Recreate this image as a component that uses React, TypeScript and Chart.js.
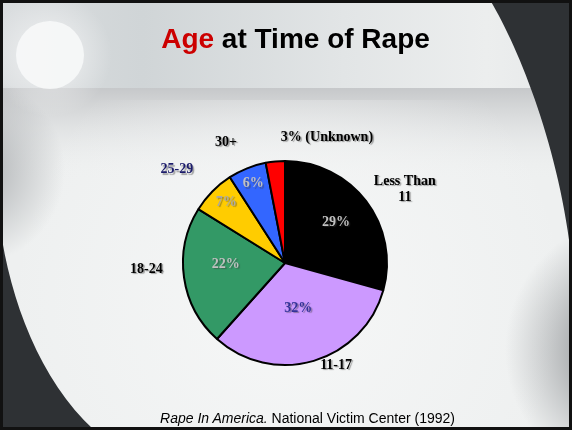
import React, { useEffect, useRef } from "react";
import { Chart, registerables } from "chart.js";

Chart.register(...registerables);

// ---- data ----
const categories = ["Less Than 11", "11-17", "18-24", "25-29", "30+", "Unknown"];
const percentages = [29, 32, 22, 7, 6, 3];
const sliceColors = ["#000000", "#CC99FF", "#339966", "#FFCC00", "#3366FF", "#FF0000"];
const outerLabels = [["Less Than", "11"], ["11-17"], ["18-24"], ["25-29"], ["30+"], ["3% (Unknown)"]];
const showInnerLabel = [true, true, true, true, true, false];

// ---- label styling / placement (relative to each slice) ----
const outerLabelColors = ["#000000", "#000000", "#000000", "#1c1c6b", "#000000", "#000000"];
const innerLabelColors = ["#c0c0c0", "#333399", "#c0c0c0", "#a8a8a8", "#c0c0c0", "#c0c0c0"];
const innerAngleShift = [-1.5, 0, 7, 1.4, 0, 0];
const innerRadiusFactor = [0.64, 0.46, 0.58, 0.83, 0.84, 0.8];
const outerAngleShift = [5.6, -10.2, 5.7, -3.8, -4.2, 23.9];
const outerRadiusFactor = [1.38, 1.12, 1.36, 1.4, 1.32, 1.3];

const LABEL_FONT = "bold 14px 'Liberation Serif', 'Times New Roman', serif";

const backgroundPlugin = {
  id: "slideBackground",
  beforeDraw(chart: any) {
    const { ctx, width: W, height: H } = chart;
    ctx.save();
    // base
    ctx.fillStyle = "#eef0f0";
    ctx.fillRect(0, 0, W, H);

    // top title band
    let g = ctx.createLinearGradient(0, 0, W, 0);
    g.addColorStop(0, "#dadddf");
    g.addColorStop(0.25, "#d0d5d7");
    g.addColorStop(0.6, "#e2e5e6");
    g.addColorStop(0.85, "#eceeee");
    g.addColorStop(1, "#e6e8e9");
    ctx.fillStyle = g;
    ctx.fillRect(0, 0, W, 88);

    // band below title fading into white
    g = ctx.createLinearGradient(0, 88, 0, 180);
    g.addColorStop(0, "rgba(198,200,202,1)");
    g.addColorStop(0.35, "rgba(216,218,219,0.8)");
    g.addColorStop(1, "rgba(238,240,240,0)");
    ctx.fillStyle = g;
    ctx.fillRect(0, 88, W, 92);

    // soft central glow
    let rg = ctx.createRadialGradient(290, 300, 20, 290, 300, 280);
    rg.addColorStop(0, "rgba(246,247,247,0.9)");
    rg.addColorStop(1, "rgba(246,247,247,0)");
    ctx.fillStyle = rg;
    ctx.fillRect(0, 100, W, H - 100);

    // left gray fade (soft)
    rg = ctx.createRadialGradient(-30, 170, 10, -30, 170, 95);
    rg.addColorStop(0, "rgba(160,163,166,0.8)");
    rg.addColorStop(1, "rgba(160,163,166,0)");
    ctx.fillStyle = rg;
    ctx.fillRect(0, 60, 120, 220);

    // right gray fade lower (soft)
    rg = ctx.createRadialGradient(640, 350, 30, 640, 350, 135);
    rg.addColorStop(0, "rgba(120,123,126,0.9)");
    rg.addColorStop(1, "rgba(150,153,156,0)");
    ctx.fillStyle = rg;
    ctx.fillRect(480, 200, W - 480, H - 200);

    // highlight circle top-left
    rg = ctx.createRadialGradient(50, 55, 34, 50, 55, 62);
    rg.addColorStop(0, "rgba(255,255,255,0.3)");
    rg.addColorStop(1, "rgba(255,255,255,0)");
    ctx.fillStyle = rg;
    ctx.fillRect(0, 0, 120, 120);
    ctx.fillStyle = "rgba(250,251,251,0.8)";
    ctx.beginPath();
    ctx.arc(50, 55, 34, 0, Math.PI * 2);
    ctx.fill();

    // dark corner top-right
    ctx.fillStyle = "#2e3134";
    ctx.beginPath();
    ctx.moveTo(490, 0);
    ctx.bezierCurveTo(520, 50, 560, 150, W, 262);
    ctx.lineTo(W, 0);
    ctx.closePath();
    ctx.fill();

    // dark corner bottom-left
    ctx.beginPath();
    ctx.moveTo(0, 226);
    ctx.bezierCurveTo(10, 300, 40, 380, 94, H);
    ctx.lineTo(0, H);
    ctx.closePath();
    ctx.fill();

    // frame
    ctx.strokeStyle = "#111111";
    ctx.lineWidth = 4;
    ctx.strokeRect(1, 1, W - 2, H - 2);
    ctx.restore();
  },
};

const labelPlugin = {
  id: "pieLabels",
  afterDatasetsDraw(chart: any) {
    const { ctx } = chart;
    const meta = chart.getDatasetMeta(0);
    ctx.save();
    ctx.font = LABEL_FONT;
    ctx.textAlign = "center";
    ctx.textBaseline = "middle";
    ctx.shadowColor = "rgba(60,60,60,0.45)";
    ctx.shadowOffsetX = 1.5;
    ctx.shadowOffsetY = 1.5;
    ctx.shadowBlur = 1;
    meta.data.forEach((arc: any, i: number) => {
      const { x, y, startAngle, endAngle, outerRadius } = arc.getProps(
        ["x", "y", "startAngle", "endAngle", "outerRadius"],
        true
      );
      const mid = (startAngle + endAngle) / 2;
      if (showInnerLabel[i]) {
        const a = mid + (innerAngleShift[i] * Math.PI) / 180;
        const r = outerRadius * innerRadiusFactor[i];
        ctx.fillStyle = innerLabelColors[i];
        ctx.fillText(`${percentages[i]}%`, x + Math.cos(a) * r, y + Math.sin(a) * r);
      }
      const a2 = mid + (outerAngleShift[i] * Math.PI) / 180;
      const r2 = outerRadius * outerRadiusFactor[i];
      const cx = x + Math.cos(a2) * r2;
      const cy = y + Math.sin(a2) * r2;
      const lines = outerLabels[i];
      const lh = 16;
      ctx.fillStyle = outerLabelColors[i];
      lines.forEach((line, k) => {
        ctx.fillText(line, cx, cy + (k - (lines.length - 1) / 2) * lh);
      });
    });
    ctx.restore();
  },
};

export default function App() {
  const canvasRef = useRef<HTMLCanvasElement | null>(null);

  useEffect(() => {
    document.body.style.margin = "0";
    const canvas = canvasRef.current;
    if (!canvas) return;
    const chart = new Chart(canvas, {
      type: "pie",
      data: {
        labels: categories,
        datasets: [
          {
            data: percentages,
            backgroundColor: sliceColors,
            borderColor: "#000000",
            borderWidth: 2,
            radius: 102,
          } as any,
        ],
      },
      options: {
        responsive: false,
        animation: false,
        devicePixelRatio: 1,
        layout: { padding: { left: 100, right: 102, top: 150, bottom: 54 } },
        plugins: {
          legend: { display: false },
          tooltip: { enabled: false },
          title: { display: false },
        },
      } as any,
      plugins: [backgroundPlugin, labelPlugin],
    });
    return () => chart.destroy();
  }, []);

  return (
    <div style={{ position: "fixed", left: 0, top: 0, width: 572, height: 430, overflow: "hidden" }}>
      <canvas ref={canvasRef} width={572} height={430} style={{ display: "block" }} />
      <div
        style={{
          position: "absolute",
          left: 0,
          top: 25,
          width: 591,
          textAlign: "center",
          font: "bold 28px 'Liberation Sans', Arial, sans-serif",
          lineHeight: "28px",
          whiteSpace: "nowrap",
          color: "#000000",
        }}
      >
        <span style={{ color: "#cc0000" }}>Age</span> at Time of Rape
      </div>
      <div
        style={{
          position: "absolute",
          left: 0,
          top: 411,
          width: 615,
          textAlign: "center",
          font: "14px 'Liberation Sans', Arial, sans-serif",
          lineHeight: "14px",
          whiteSpace: "nowrap",
          color: "#000000",
        }}
      >
        <i>Rape In America.</i> National Victim Center (1992)
      </div>
    </div>
  );
}
